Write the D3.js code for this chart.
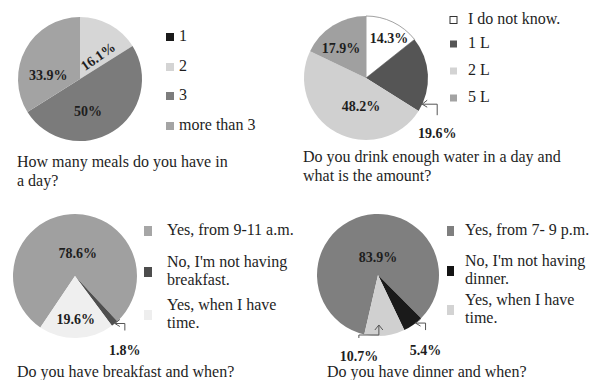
<!DOCTYPE html>
<html><head><meta charset="utf-8">
<script src="https://cdn.jsdelivr.net/npm/d3@7"></script>
<style>body{margin:0;background:#fff}svg{display:block}text{font-family:"Liberation Serif","Times New Roman",serif;fill:#1e1e1e}</style>
</head><body>
<script>
// ---- data ----
const meals = ["1", "2", "3", "more than 3"];
const mealsValues = [0, 16.1, 50, 33.9];
const mealsLabels = ["", "16.1%", "50%", "33.9%"];
const mealsTitle = ["How many meals do you have in", "a day?"];

const water = ["I do not know.", "1 L", "2 L", "5 L"];
const waterValues = [14.3, 19.6, 48.2, 17.9];
const waterLabels = ["14.3%", "19.6%", "48.2%", "17.9%"];
const waterTitle = ["Do you drink enough water in a day and", "what is the amount?"];

const breakfast = [["Yes, from 9-11 a.m."], ["No, I'm not having", "breakfast."], ["Yes, when I have", "time."]];
const breakfastValues = [78.6, 1.8, 19.6];
const breakfastLabels = ["78.6%", "1.8%", "19.6%"];
const breakfastTitle = ["Do you have breakfast and when?"];

const dinner = [["Yes, from 7- 9 p.m."], ["No, I'm not having", "dinner."], ["Yes, when I have", "time."]];
const dinnerValues = [83.9, 5.4, 10.7];
const dinnerLabels = ["83.9%", "5.4%", "10.7%"];
const dinnerTitle = ["Do you have dinner and when?"];

// ---- styles / layout ----
const charts = [
  { values: mealsValues, labels: mealsLabels, legend: meals.map(d => [d]), title: mealsTitle,
    colors: ["#1a1a1a", "#d6d6d6", "#7b7b7b", "#a3a3a3"], sw: ["#1a1a1a", "#d4d4d4", "#7d7d7d", "#a4a4a4"],
    cx: 80, cy: 79, r: 62, start: 0,
    lab: [null, {a: 38, d: 29, rot: -35}, {a: 166, d: 33}, {a: 277, d: 32}],
    leg: {x: 166, tx: 179, sq: 8, base: [41, 71, 100, 130]},
    tt: {x: 17, y: 167} },
  { values: waterValues, labels: waterLabels, legend: water.map(d => [d]), title: waterTitle,
    colors: ["#ffffff", "#555555", "#d0d0d0", "#a0a0a0"], sw: ["#ffffff", "#555555", "#d3d3d3", "#a3a3a3"],
    cx: 366, cy: 78, r: 62, start: 0,
    lab: [{a: 30, d: 46}, {arrow: "left", at: 115, dx: 15, dy: 11, ty: 29}, {a: 190, d: 29}, {a: 320, d: 39}],
    leg: {x: 450, tx: 468, sq: 7, base: [24, 48, 75, 102]},
    tt: {x: 303, y: 162} },
  { values: breakfastValues, labels: breakfastLabels, legend: breakfast, title: breakfastTitle,
    colors: ["#a0a0a0", "#4f4f4f", "#efefef"], sw: ["#a6a6a6", "#4d4d4d", "#eeeeee"],
    cx: 75, cy: 276, r: 62, start: 214,
    lab: [{a: 7, d: 23}, {arrow: "left", at: 140, dx: 10, dy: 7, ty: 27}, {a: 179, d: 43}],
    leg: {x: 144, tx: 167, sq: 8, sh: 10, base: [235, 267, 310]},
    tt: {x: 17, y: 377} },
  { values: dinnerValues, labels: dinnerLabels, legend: dinner, title: dinnerTitle,
    colors: ["#7f7f7f", "#1a1a1a", "#d0d0d0"], sw: ["#7f7f7f", "#141414", "#d3d3d3"],
    cx: 378, cy: 275, r: 61, start: 193,
    lab: [{a: 0, d: 18}, {arrow: "left", at: 142, dx: 10, dy: 7, ty: 27}, {arrow: "up", at: 179, d: 50, dx: -20, dy: 10, ty: 27}],
    leg: {x: 447, tx: 465, sq: 7, sh: 10, base: [235, 266, 305]},
    tt: {x: 327, y: 377} }
];

const W = 590, H = 380;
const svg = d3.select("body").append("svg").attr("width", W).attr("height", H);
const rad = d => d * Math.PI / 180;

charts.forEach(c => {
  const g = svg.append("g").attr("transform", `translate(${c.cx},${c.cy})`);
  const pie = d3.pie().sort(null).value(d => d)
    .startAngle(rad(c.start)).endAngle(rad(c.start + 360));
  const arcs = pie(c.values);
  const arc = d3.arc().innerRadius(0).outerRadius(c.r);
  g.selectAll("path").data(arcs).join("path")
    .attr("d", arc)
    .attr("fill", (d, i) => c.colors[i])
    .attr("stroke", (d, i) => c.colors[i] === "#ffffff" ? "#8a8a8a" : "none")
    .attr("stroke-width", 0.8);

  // labels
  arcs.forEach((a, i) => {
    const L = c.lab[i];
    if (!L || !c.labels[i]) return;
    if (L.arrow) {
      const dist = L.d || c.r;
      const px = dist * Math.sin(rad(L.at)), py = -dist * Math.cos(rad(L.at));
      let path, tx, ty, head;
      if (L.arrow === "left") {
        const ex = px + L.dx;
        path = `M${px},${py}H${ex}V${py + L.dy}`;
        head = `M${px + 5},${py - 4}L${px},${py}L${px + 5},${py + 3}`;
        tx = ex; ty = py + L.ty;
      } else {
        const ey = py + L.dy;
        path = `M${px},${py}V${ey}H${px + L.dx}V${ey + 3}`;
        head = `M${px - 4},${py + 5}L${px},${py}L${px + 4},${py + 5}`;
        tx = px + L.dx; ty = ey + L.ty - 6;
      }
      g.append("path").attr("d", path).attr("fill", "none").attr("stroke", "#555").attr("stroke-width", 1);
      g.append("path").attr("d", head).attr("fill", "none").attr("stroke", "#555").attr("stroke-width", 1);
      g.append("text").attr("x", tx).attr("y", ty).attr("dy", "0.35em")
        .attr("text-anchor", "middle").attr("font-size", 14).attr("font-weight", "bold")
        .text(c.labels[i]);
    } else {
      const x = L.d * Math.sin(rad(L.a)), y = -L.d * Math.cos(rad(L.a));
      const t = g.append("text").attr("x", x).attr("y", y).attr("dy", "0.35em")
        .attr("text-anchor", "middle").attr("font-size", 14).attr("font-weight", "bold")
        .text(c.labels[i]);
      if (L.rot) t.attr("transform", `rotate(${L.rot},${x},${y})`);
    }
  });

  // legend
  const lg = svg.append("g");
  c.legend.forEach((lines, i) => {
    const b = c.leg.base[i];
    const sh = c.leg.sh || c.leg.sq;
    const mid = b + (lines.length - 1) * 9 - 4;
    lg.append("rect").attr("x", c.leg.x).attr("y", mid - sh / 2)
      .attr("width", c.leg.sq).attr("height", sh)
      .attr("fill", c.sw[i])
      .attr("stroke", c.sw[i] === "#ffffff" ? "#333" : "none").attr("stroke-width", 1);
    lines.forEach((ln, j) => {
      lg.append("text").attr("x", c.leg.tx).attr("y", b + j * 18)
        .attr("font-size", 16).text(ln);
    });
  });

  // title
  c.title.forEach((ln, j) => {
    svg.append("text").attr("x", c.tt.x).attr("y", c.tt.y + j * 19)
      .attr("font-size", 16).text(ln);
  });
});
</script>
</body></html>
